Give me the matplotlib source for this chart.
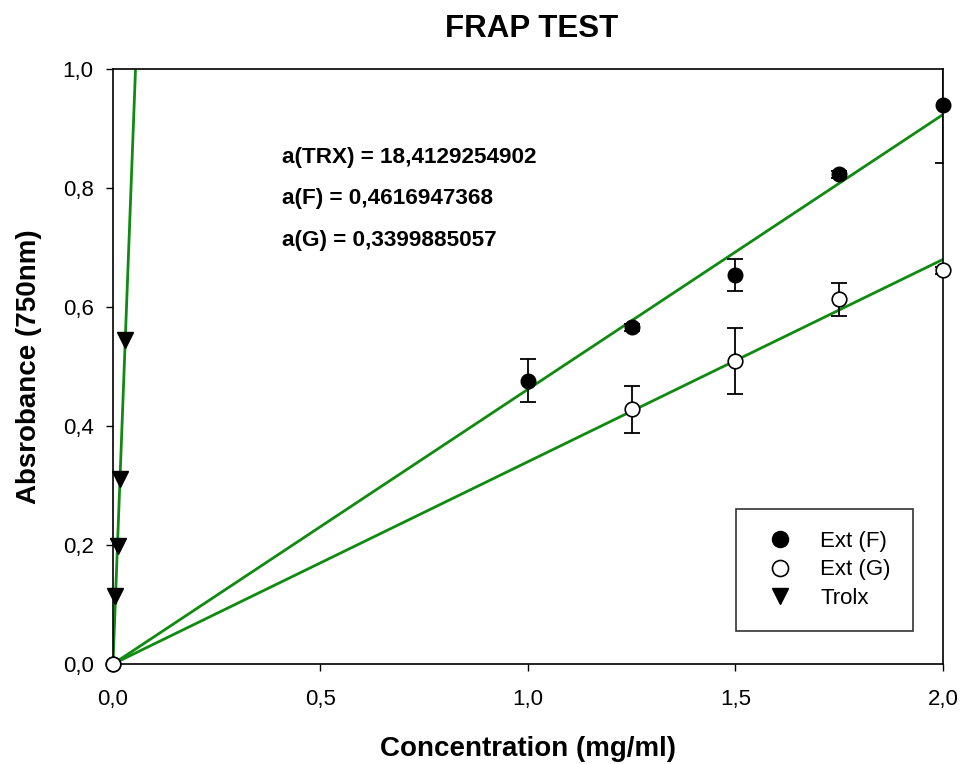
import numpy as np
import matplotlib.pyplot as plt
from matplotlib.ticker import FuncFormatter

plt.rcParams['font.family'] = ['Liberation Sans', 'DejaVu Sans']

# data
conc_f = [0.0, 1.0, 1.25, 1.5, 1.75, 2.0]
abs_f = [0.0, 0.476, 0.566, 0.654, 0.823, 0.939]
err_f = [0.0, 0.036, 0.006, 0.027, 0.006, 0.097]

conc_g = [0.0, 1.25, 1.5, 1.75, 2.0]
abs_g = [0.0, 0.428, 0.509, 0.613, 0.662]
err_g = [0.0, 0.039, 0.056, 0.028, 0.006]

conc_trx = [0.0, 0.006, 0.011, 0.017, 0.030]
abs_trx = [0.0, 0.114, 0.199, 0.311, 0.544]

slope_trx = 18.4129254902
slope_f = 0.4616947368
slope_g = 0.3399885057

fig = plt.figure(figsize=(9.64, 7.64), dpi=100)
ax = fig.add_axes([0.1172, 0.1309, 0.8610, 0.7788])

# regression lines through origin
xf = np.array([0.0, 2.0])
ax.plot(xf, slope_f * xf, color='#108a10', lw=2, zorder=2)
ax.plot(xf, slope_g * xf, color='#108a10', lw=2, zorder=2)
xt = np.array([0.0, 1.0 / slope_trx])
ax.plot(xt, slope_trx * xt, color='#108a10', lw=2, zorder=2)

ax.errorbar(conc_f, abs_f, yerr=err_f, fmt='none', ecolor='black',
            elinewidth=1.3, capsize=6, capthick=1.3, zorder=3)
ax.errorbar(conc_g, abs_g, yerr=err_g, fmt='none', ecolor='black',
            elinewidth=1.3, capsize=6, capthick=1.3, zorder=3)

ax.plot(conc_f, abs_f, 'o', color='black', ms=10.5, ls='none',
        label='Ext (F)', zorder=4, clip_on=False)
ax.plot(conc_g, abs_g, 'o', mfc='white', mec='black', mew=1.2, ms=10.5,
        ls='none', label='Ext (G)', zorder=5, clip_on=False)
ax.plot(conc_trx[1:], abs_trx[1:], 'v', color='black', ms=11, ls='none',
        label='Trolx', zorder=4, clip_on=False)

ax.set_xlim(0, 2.0)
ax.set_ylim(0, 1.0)
ax.set_xticks(np.arange(0, 2.01, 0.5))
ax.set_yticks(np.arange(0, 1.01, 0.2))
comma = FuncFormatter(lambda v, p: f'{v:.1f}'.replace('.', ','))
ax.xaxis.set_major_formatter(comma)
ax.yaxis.set_major_formatter(comma)
ax.tick_params(direction='out', length=5, width=1, labelsize=16)
ax.tick_params(axis='x', pad=13)
ax.tick_params(axis='y', pad=9)
for s in ax.spines.values():
    s.set_linewidth(1.2)

ax.set_xlabel('Concentration (mg/ml)', fontsize=20, fontweight='bold', labelpad=19)
ax.set_ylabel('Absrobance (750nm)', fontsize=20, fontweight='bold', labelpad=15)
fig.text(0.5514, 0.962, 'FRAP TEST', ha='center', va='center',
         fontsize=22.5, fontweight='bold')

ax.text(0.407, 0.852, 'a(TRX) = 18,4129254902', fontsize=16.2, fontweight='bold', va='center')
ax.text(0.407, 0.783, 'a(F) = 0,4616947368', fontsize=16.2, fontweight='bold', va='center')
ax.text(0.407, 0.711, 'a(G) = 0,3399885057', fontsize=16.2, fontweight='bold', va='center')

leg = ax.legend(loc='lower right', bbox_to_anchor=(0.9639, 0.0555), fontsize=16,
                frameon=True, fancybox=False, edgecolor='black', borderaxespad=0,
                borderpad=1.0, handletextpad=0.8, labelspacing=0.33,
                markerscale=1.1)
leg.get_frame().set_linewidth(1.2)

fig.savefig('out.png', dpi=100)
